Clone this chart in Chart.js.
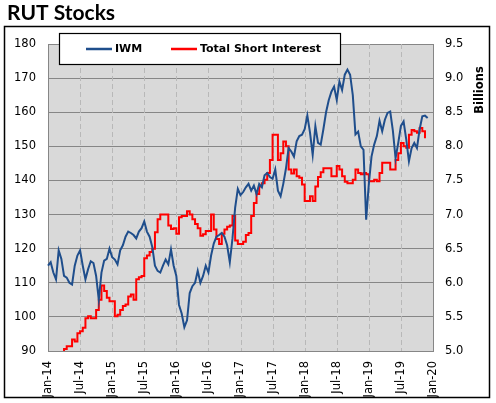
<!DOCTYPE html>
<html>
<head>
<meta charset="utf-8">
<title>RUT Stocks</title>
<script src="https://cdn.jsdelivr.net/npm/chart.js@4.4.1/dist/chart.umd.min.js"></script>
<style>
  html, body { margin: 0; padding: 0; background: #fff; }
  canvas { display: block; }
</style>
</head>
<body>
<canvas id="rut-chart" width="496" height="403"></canvas>
<script>
// x ticks, one every half year (12 half-month steps)
const xTickLabels = ['Jan-14', 'Jul-14', 'Jan-15', 'Jul-15', 'Jan-16', 'Jul-16', 'Jan-17',
                     'Jul-17', 'Jan-18', 'Jul-18', 'Jan-19', 'Jul-19', 'Jan-20'];

// IWM price, twice a month from Jan 2014 (left axis)
const iwmValues = [
  115, 116, 113, 111, 119.5, 117, 112, 111.5, 110, 109.5, 115, 118,
  119.5, 115, 111, 114, 116.3, 115.8, 112, 105, 113, 116.5, 117, 120,
  117.5, 116.8, 115.4, 119.5, 121, 123.5, 125, 124.6, 124, 123, 125, 126,
  128, 125, 123.5, 120.5, 115, 113.5, 113, 115, 116.8, 115.4, 119.8, 115,
  112, 103.5, 101, 97, 99, 107, 109, 110, 113.5, 110, 112, 115,
  113, 118, 121.5, 123.5, 124, 124.6, 123.5, 121, 116, 123, 132, 137.5,
  135.7, 136.6, 138, 139, 137, 138.5, 136, 139, 138, 141.5, 142.2, 141,
  140.5, 143.2, 137, 135.4, 139, 143.5, 149.5, 148.5, 147, 151.5, 153, 153.4,
  155, 159, 154, 147.5, 155.9, 151, 150.5, 155, 160, 163.5, 166, 167.5,
  163.6, 169, 166.5, 171, 172.5, 171, 165, 153.5, 154.3, 150, 149, 128.5,
  139, 147, 150.5, 153, 157.5, 154.4, 157.8, 159.8, 160.2, 154.5, 146.5, 151,
  156, 157.3, 152, 145.6, 149.5, 151, 149.5, 155, 158.8, 159, 158.3
];

// Total short interest in billions, twice a month (right axis)
const shortInterest = [
  4.7, 4.72, 4.8, 4.85, 4.9, 4.96, 5.03, 5.07, 5.07, 5.17, 5.14, 5.26,
  5.29, 5.34, 5.48, 5.51, 5.48, 5.48, 5.6, 5.75, 5.96, 5.88, 5.78, 5.73,
  5.73, 5.51, 5.53, 5.6, 5.66, 5.68, 5.8, 5.83, 5.75, 6.05, 6.08, 6.1,
  6.36, 6.4, 6.45, 6.5, 6.74, 6.93, 7.0, 7.0, 7.0, 6.84, 6.79, 6.8,
  6.72, 6.96, 6.98, 6.98, 7.05, 7.0, 6.93, 6.86, 6.8, 6.69, 6.71, 6.76,
  6.76, 7.0, 6.78, 6.64, 6.57, 6.72, 6.78, 6.82, 6.84, 6.98, 6.62, 6.57,
  6.57, 6.6, 6.7, 6.73, 6.98, 7.17, 7.3, 7.41, 7.46, 7.51, 7.61, 7.8,
  8.17, 8.17, 7.8, 7.9, 8.07, 8.0, 7.66, 7.6, 7.66, 7.56, 7.54, 7.44,
  7.2, 7.2, 7.27, 7.2, 7.41, 7.55, 7.62, 7.68, 7.68, 7.68, 7.56, 7.56,
  7.71, 7.66, 7.56, 7.48, 7.46, 7.46, 7.51, 7.66, 7.61, 7.59, 7.61, 7.59,
  7.49, 7.49, 7.51, 7.49, 7.61, 7.76, 7.76, 7.76, 7.66, 7.66, 7.8, 7.9,
  8.05, 8.0, 7.98, 8.17, 8.24, 8.22, 8.2, 8.27, 8.22, 8.12
];

// half-month categories from Jan 2014 up to Jan 2020
const halfMonths = [];
for (let i = 0; i <= (xTickLabels.length - 1) * 12; i++) halfMonths.push(String(i));

const padTo = (arr, n) => arr.concat(new Array(Math.max(0, n - arr.length)).fill(null));

// background, plot fill, dashed verticals, outer frame, title, legend box, right axis title
const decorPlugin = {
  id: 'decor',
  beforeDraw(chart) {
    const ctx = chart.ctx;
    const a = chart.chartArea;
    ctx.save();
    ctx.fillStyle = '#ffffff';
    ctx.fillRect(0, 0, chart.width, chart.height);
    ctx.fillStyle = '#d9d9d9';
    ctx.fillRect(a.left, a.top, a.right - a.left, a.bottom - a.top);
    ctx.restore();
  },
  beforeDatasetsDraw(chart) {
    // vertical dashed grid at each half-year tick
    const ctx = chart.ctx;
    const a = chart.chartArea;
    const xs = chart.scales.x;
    ctx.save();
    ctx.strokeStyle = '#b8b8b8';
    ctx.lineWidth = 1;
    ctx.setLineDash([5, 3]);
    for (let k = 1; k < xTickLabels.length - 1; k++) {
      const x = Math.round(xs.getPixelForValue(k * 12)) + 0.5;
      ctx.beginPath();
      ctx.moveTo(x, a.top);
      ctx.lineTo(x, a.bottom);
      ctx.stroke();
    }
    ctx.restore();
  },
  afterDraw(chart) {
    const ctx = chart.ctx;
    ctx.save();

    // outer border
    ctx.strokeStyle = '#000';
    ctx.lineWidth = 1.5;
    ctx.strokeRect(4.5, 26.5, 485, 371);

    // title
    ctx.fillStyle = '#000';
    ctx.font = 'bold 21px Lato';
    ctx.textBaseline = 'alphabetic';
    ctx.textAlign = 'left';
    ctx.fillText('RUT Stocks', 7, 20);

    // right axis title
    ctx.save();
    ctx.translate(480, 90);
    ctx.rotate(-Math.PI / 2);
    ctx.font = 'bold 11.5px "DejaVu Sans"';
    ctx.textAlign = 'center';
    ctx.textBaseline = 'middle';
    ctx.fillText('Billions', 0, 0);
    ctx.restore();

    // legend box
    ctx.fillStyle = '#fff';
    ctx.fillRect(59, 33, 281, 31);
    ctx.strokeStyle = '#000';
    ctx.lineWidth = 1.2;
    ctx.strokeRect(59.5, 33.5, 281, 31);

    const items = [
      { x: 86, ds: chart.data.datasets[0] },
      { x: 171, ds: chart.data.datasets[1] }
    ];
    ctx.font = 'bold 11px "DejaVu Sans"';
    ctx.textBaseline = 'middle';
    items.forEach(item => {
      ctx.strokeStyle = item.ds.borderColor;
      ctx.lineWidth = 2.5;
      ctx.beginPath();
      ctx.moveTo(item.x, 49);
      ctx.lineTo(item.x + 26, 49);
      ctx.stroke();
      ctx.fillStyle = '#000';
      ctx.fillText(item.ds.label, item.x + 29, 49.5);
    });

    ctx.restore();
  }
};

const tickFont = { family: 'DejaVu Sans', size: 11.5 };

new Chart(document.getElementById('rut-chart'), {
  type: 'line',
  data: {
    labels: halfMonths,
    datasets: [
      {
        label: 'IWM',
        data: padTo(iwmValues, halfMonths.length),
        yAxisID: 'y',
        borderColor: '#1f4e8c',
        borderWidth: 2,
        pointRadius: 0,
        tension: 0
      },
      {
        label: 'Total Short Interest',
        data: padTo(shortInterest, halfMonths.length),
        yAxisID: 'y2',
        borderColor: '#ff0000',
        borderWidth: 2,
        pointRadius: 0,
        stepped: 'before'
      }
    ]
  },
  options: {
    responsive: false,
    devicePixelRatio: 1,
    animation: false,
    layout: { padding: { top: 44, left: 0, right: 0, bottom: 0 } },
    plugins: {
      legend: { display: false },
      tooltip: { enabled: false }
    },
    scales: {
      x: {
        type: 'category',
        grid: { display: false },
        border: { display: false },
        ticks: {
          autoSkip: false,
          maxRotation: 90,
          minRotation: 90,
          padding: 2,
          color: '#000',
          font: tickFont,
          callback: (value, index) => index % 12 === 0 ? xTickLabels[index / 12] : null
        },
        afterFit: scale => { scale.height = 52; }
      },
      y: {
        position: 'left',
        min: 90,
        max: 180,
        grid: { color: '#868686', lineWidth: 1, drawTicks: false },
        border: { display: true, color: '#868686', width: 1 },
        ticks: { stepSize: 10, padding: 12, color: '#000', font: tickFont },
        afterFit: scale => { scale.width = 48; }
      },
      y2: {
        position: 'right',
        min: 5,
        max: 9.5,
        grid: { drawOnChartArea: false, drawTicks: false },
        border: { display: true, color: '#868686', width: 1 },
        ticks: {
          stepSize: 0.5,
          padding: 12,
          color: '#000',
          font: tickFont,
          callback: v => Number(v).toFixed(1)
        },
        afterFit: scale => { scale.width = 63; }
      }
    }
  },
  plugins: [decorPlugin]
});
</script>
</body>
</html>
